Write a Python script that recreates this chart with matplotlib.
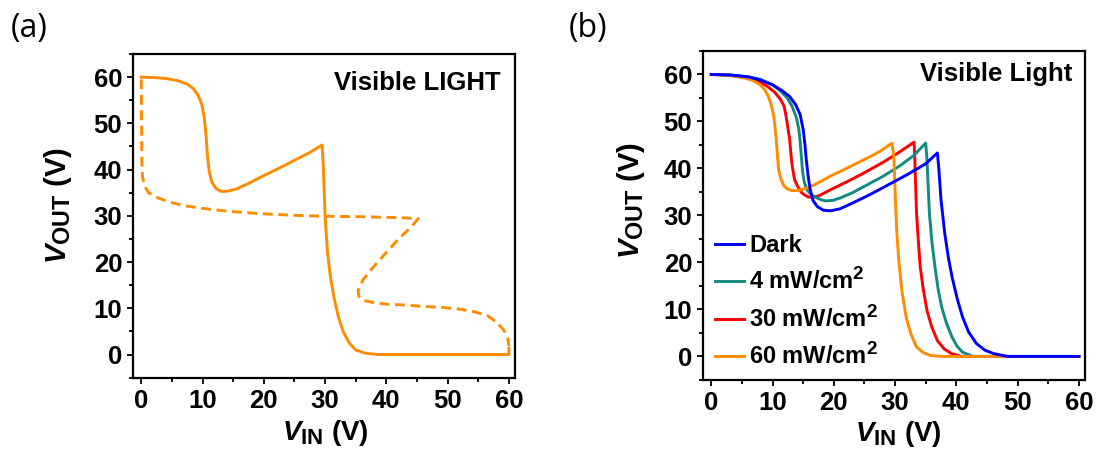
import matplotlib
matplotlib.use("Agg")
import matplotlib.pyplot as plt
import matplotlib._mathtext as mathtext_mod
from matplotlib.ticker import MultipleLocator

# sub/superscripts in the reference are almost full size
mathtext_mod.SHRINK_FACTOR = 0.8

plt.rcParams["font.family"] = ["Liberation Sans", "DejaVu Sans"]
plt.rcParams["font.weight"] = "bold"
plt.rcParams["mathtext.fontset"] = "custom"
plt.rcParams["mathtext.rm"] = "Liberation Sans:bold"
plt.rcParams["mathtext.bf"] = "Liberation Sans:bold"
plt.rcParams["mathtext.it"] = "Liberation Sans:italic:bold"

ORANGE = "#FF8C00"

# ---- panel (a): visible light, forward (solid) and backward (dashed) sweep
a_fwd_x = [0, 2, 4, 6, 7.5, 8.5, 9.3, 9.9, 10.3, 10.6, 10.8, 11.1, 11.5, 12.2, 13.0,
           14.0, 15.5, 17.5, 20, 22.5, 25, 27.5, 29.5, 29.7, 30.0, 30.4, 30.9, 31.5,
           32.2, 33.0, 34.0, 35.0, 36.5, 38.5, 45, 60, 60]
a_fwd_y = [60, 59.9, 59.7, 59.2, 58.5, 57.5, 56, 54, 51, 47, 43, 39.5, 37.3, 35.9, 35.3,
           35.3, 35.8, 37, 38.7, 40.3, 42, 43.7, 45.3, 41, 30, 22, 16.5, 12,
           8, 4.8, 2.4, 1.0, 0.3, 0, 0, 0, 1.3]

a_bwd_x = [0, 0.05, 0.1, 0.2, 0.5, 1.2, 2.5, 4.5, 7, 10, 14, 19, 25, 30, 36, 42, 45.2,
           44.2, 42, 39.8, 37.8, 36.2, 35.4, 35.5, 36.3, 38, 40, 43, 46, 49, 52, 54.5,
           56.5, 58, 59.2, 59.8, 60]
a_bwd_y = [59.5, 50, 42, 38.5, 36.5, 35.0, 34.0, 33.0, 32.2, 31.6, 31.0, 30.5, 30.1, 29.9,
           29.8, 29.6, 29.4, 27.8, 25.0, 21.8, 18.8, 16.2, 13.9, 12.6, 11.7, 11.2, 10.9,
           10.7, 10.4, 10.2, 9.8, 9.2, 8.4, 7.0, 5.2, 3.5, 1.8]

# ---- panel (b): transfer curves vs light intensity
dark_x = [0, 3, 6, 8, 10, 11.5, 12.8, 13.8, 14.5, 15.0, 15.3, 15.5, 15.8, 16.1, 16.6, 17.3,
          18.3, 19.5, 21, 23, 26, 29, 32, 35, 36.9, 37.1, 37.5, 38.1, 38.7, 39.3, 40.1,
          41.0, 42.0, 43.3, 44.7, 46.1, 48.4, 60]
dark_y = [60, 59.9, 59.5, 58.8, 57.8, 56.6, 55.3, 53.5, 51.5, 48.3, 45, 41.9, 38.5, 35.8,
          33.2, 31.9, 31.1, 31.0, 31.4, 32.6, 34.5, 36.6, 38.7, 41.0, 43.3, 40.6, 33.3,
          26.2, 21, 16.9, 12.5, 8.4, 5.2, 2.7, 1.3, 0.6, 0, 0]

p4_x = [0, 3, 6, 8, 10, 11.3, 12.4, 13.2, 13.9, 14.3, 14.5, 14.7, 14.9, 15.2, 15.6, 16.3,
        17.1, 18.0, 18.7, 19.8, 21.0, 23, 25, 28, 30.7, 33, 35.0, 35.2, 35.6, 36.0, 36.5,
        37.0, 37.6, 38.4, 39.3, 40.1, 41.0, 42.7, 60]
p4_y = [60, 59.9, 59.5, 59.0, 57.8, 56.5, 55.0, 53.2, 50.8, 48.3, 45.8, 42.6, 39.4, 37.0,
        35.5, 34.4, 33.8, 33.3, 33.1, 33.2, 33.7, 34.8, 36.2, 38.3, 40.5, 42.7, 45.4, 42,
        30.5, 24.5, 19.1, 14.5, 10.5, 7.0, 4.1, 2.2, 0.9, 0, 0]

p30_x = [0, 3, 5.6, 7.5, 9.0, 10.3, 11.3, 11.9, 12.2, 12.5, 12.8, 13.0, 13.2, 13.6, 14.1,
         14.7, 15.3, 15.9, 16.7, 17.6, 19.5, 22.2, 25, 27.9, 30.5, 33.1, 33.2, 33.5, 33.8,
         34.1, 34.6, 35.2, 36.0, 36.9, 38.0, 39.2, 40.9, 60]
p30_y = [60, 59.8, 59.3, 58.6, 57.6, 56.3, 54.7, 53.2, 51.2, 48.7, 46.2, 43.0, 40.6, 37.6,
         36.2, 34.9, 34.3, 33.9, 33.9, 34.2, 35.5, 37.2, 39.1, 41.2, 43.3, 45.6, 42.7, 30.5,
         24.5, 19.1, 14.3, 9.8, 6.2, 3.4, 1.6, 0.6, 0, 0]

p60_x = [0, 2.5, 4.5, 6.5, 7.9, 8.7, 9.3, 9.8, 10.2, 10.4, 10.6, 10.8, 11.0, 11.4, 11.9,
         12.5, 13.1, 14.0, 14.8, 15.8, 17.1, 19.5, 22.2, 25, 27.5, 29.5, 29.8, 30.1, 30.3,
         30.6, 31.1, 31.8, 32.6, 33.5, 34.6, 35.8, 37.5, 60]
p60_y = [60, 59.9, 59.5, 58.9, 57.9, 56.8, 55.4, 53.5, 51.1, 48.8, 46.2, 42.8, 39.7, 37.6,
         36.2, 35.6, 35.3, 35.3, 35.5, 35.9, 36.7, 38.4, 40.1, 41.9, 43.6, 45.4, 42.5, 31.9,
         26, 20.5, 14, 8.4, 4.7, 2.0, 0.8, 0.2, 0, 0]

labels_b = ["Dark", "4 mW/cm$^2$", "30 mW/cm$^2$", "60 mW/cm$^2$"]
colors_b = ["#0000FF", "#138A80", "#FF0000", ORANGE]


def style_axes(ax):
    ax.set_xlim(-1.3, 61)
    ax.set_ylim(-5, 65)
    ax.xaxis.set_major_locator(MultipleLocator(10))
    ax.xaxis.set_minor_locator(MultipleLocator(5))
    ax.yaxis.set_major_locator(MultipleLocator(10))
    ax.yaxis.set_minor_locator(MultipleLocator(5))
    ax.tick_params(which="major", direction="out", length=4, width=1.3,
                   labelsize=18.5, pad=4)
    ax.tick_params(which="minor", direction="out", length=3, width=1.3)
    for sp in ax.spines.values():
        sp.set_linewidth(1.6)
    ax.set_xlabel(r"$V_{\mathrm{IN}}$ (V)", fontsize=20, fontweight="bold")
    ax.set_ylabel(r"$V_{\mathrm{OUT}}$ (V)", fontsize=21, fontweight="bold")


fig = plt.figure(figsize=(10.97, 4.55), dpi=100)
ax1 = fig.add_axes([0.1215, 0.170, 0.348, 0.7114])
ax2 = fig.add_axes([0.6411, 0.165, 0.348, 0.723])

# (a)
ax1.plot(a_fwd_x, a_fwd_y, color=ORANGE, lw=2.1)
ax1.plot(a_bwd_x, a_bwd_y, color=ORANGE, lw=2.1, ls=(0, (3.4, 1.9)))
style_axes(ax1)
ax1.text(0.961, 0.910, "Visible LIGHT", transform=ax1.transAxes, ha="right",
         va="center", fontsize=18.5, fontweight="bold")
ax1.xaxis.set_label_coords(0.502, -0.125)
ax1.yaxis.set_label_coords(-0.155, 0.533)

# (b) draw order so that blue ends on top, legend in reference order
handles = []
for xs, ys, lab, col, z in zip([dark_x, p4_x, p30_x, p60_x],
                               [dark_y, p4_y, p30_y, p60_y],
                               labels_b, colors_b, [5, 3, 2, 4]):
    ln, = ax2.plot(xs, ys, color=col, lw=2.1, label=lab, zorder=z)
    handles.append(ln)
style_axes(ax2)
ax2.text(0.9675, 0.930, "Visible Light", transform=ax2.transAxes, ha="right",
         va="center", fontsize=18.5, fontweight="bold")
ax2.xaxis.set_label_coords(0.511, -0.12)
ax2.yaxis.set_label_coords(-0.148, 0.545)
ax2.legend(handles=handles, loc="center left", bbox_to_anchor=(0.031, 0.238),
           frameon=False, fontsize=17, handlelength=1.23, handletextpad=0.22,
           labelspacing=0.45, borderpad=0, borderaxespad=0)

fig.text(10.5 / 1097, 1 - 29 / 455, "(a)", fontsize=23, fontweight="normal",
         family="Open Sans", ha="left", va="center")
fig.text(569 / 1097, 1 - 29 / 455, "(b)", fontsize=23, fontweight="normal",
         family="Open Sans", ha="left", va="center")

fig.savefig("out.png", dpi=100)
